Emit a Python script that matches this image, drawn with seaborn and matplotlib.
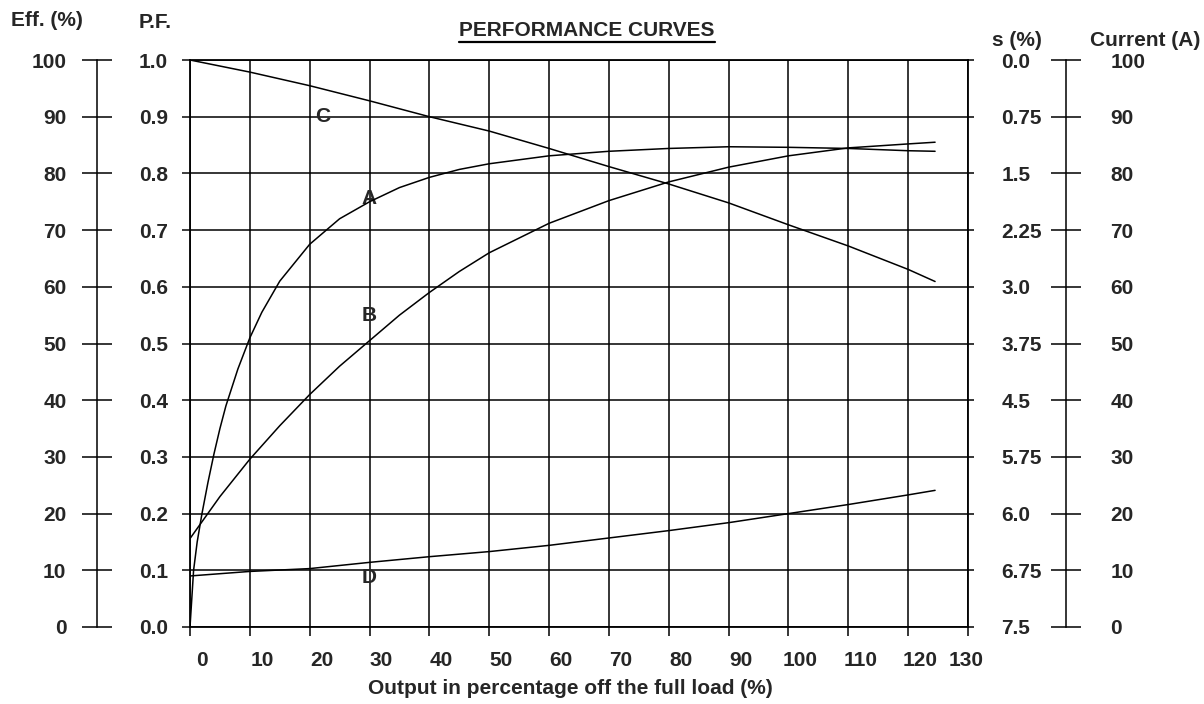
import numpy as np
import matplotlib
matplotlib.use("Agg")
import matplotlib.pyplot as plt
import matplotlib.transforms as mtransforms
from matplotlib.lines import Line2D
import seaborn as sns

# valores (carga en % de plena carga)
load = [0, 10, 20, 30, 40, 50, 60, 70, 80, 90, 100, 110, 120, 124.5]

# A: rendimiento (%) - mas puntos al principio porque sube muy rapido
eff_load = [0, 0.6, 1.2, 2, 3, 4, 5, 6, 8, 10, 12, 15, 20, 25, 30, 35, 40, 45,
            50, 60, 70, 80, 90, 100, 110, 120, 124.5]
eff_pct = [0, 10, 15, 20, 25.5, 30.5, 35, 39, 45.5, 51, 55.5, 61, 67.5, 72, 75,
           77.5, 79.3, 80.7, 81.7, 83.1, 83.9, 84.4, 84.7, 84.6, 84.4, 84.0, 83.9]

# B: factor de potencia
pf_load = [0, 5, 10, 15, 20, 25, 30, 35, 40, 45, 50, 60, 70, 80, 90, 100, 110,
           120, 124.5]
pf = [0.156, 0.23, 0.296, 0.355, 0.41, 0.46, 0.505, 0.55, 0.59, 0.627, 0.66,
      0.712, 0.752, 0.785, 0.811, 0.831, 0.845, 0.852, 0.855]

# C: deslizamiento s (%)
slip = [0.0, 0.16, 0.34, 0.54, 0.75, 0.94, 1.17, 1.41, 1.64, 1.89, 2.18,
        2.46, 2.77, 2.93]

# D: corriente (A)
current = [9.0, 9.8, 10.3, 11.4, 12.4, 13.3, 14.4, 15.7, 17.0, 18.4, 20.0,
           21.6, 23.3, 24.1]

x_ticks = list(range(0, 131, 10))
pf_ticks = [round(v * 0.1, 1) for v in range(11)]
eff_ticks = list(range(0, 101, 10))
cur_ticks = list(range(0, 101, 10))
s_ticks = [i * 0.75 for i in range(11)]
s_tick_labels = ["0.0", "0.75", "1.5", "2.25", "3.0", "3.75", "4.5", "5.75",
                 "6.0", "6.75", "7.5"]

curve_names = ["A", "B", "C", "D"]
name_pos = [(30, 0.755), (30, 0.55), (22.2, 0.9), (30, 0.088)]

sns.set_theme(style="white")
plt.rcParams["font.family"] = ["Liberation Sans", "DejaVu Sans"]
plt.rcParams["font.weight"] = "bold"
plt.rcParams["axes.edgecolor"] = "black"
FS = 15

W, H = 1204, 704
fig = plt.figure(figsize=(W / 100, H / 100), dpi=100)
fig.patch.set_facecolor("white")

left, right, top, bottom = 190, 968, 60, 627
ax = fig.add_axes([left / W, 1 - bottom / H, (right - left) / W, (bottom - top) / H])

lw = 1.1
ax.set_xlim(0, 130)
ax.set_ylim(0, 1)
ax.set_xticks(x_ticks)
ax.set_yticks(pf_ticks)
ax.set_yticklabels([f"{v:.1f}" for v in pf_ticks])
ax.grid(True, color="black", lw=lw)
for sp in ax.spines.values():
    sp.set_color("black")
    sp.set_linewidth(1.3)
ax.tick_params(axis="x", bottom=True, direction="out", length=6.5, width=lw,
               color="black", pad=11, labelsize=FS)
ax.tick_params(axis="y", left=False, pad=10, labelsize=FS)
for lab in ax.get_xticklabels():
    lab.set_fontweight("bold")
    dx = -2 if lab.get_text() == "130" else 12
    lab.set_transform(lab.get_transform() + mtransforms.ScaledTranslation(dx / 100, 0, fig.dpi_scale_trans))
for lab in ax.get_yticklabels():
    lab.set_fontweight("bold")

# eje s (%) en el borde derecho
ax_s = ax.twinx()
ax_s.set_ylim(7.5, 0)
ax_s.set_yticks(s_ticks)
ax_s.set_yticklabels(s_tick_labels)
ax_s.tick_params(axis="y", right=True, direction="out", length=4, width=lw,
                 color="black", pad=20, labelsize=FS)
for sp in ax_s.spines.values():
    sp.set_visible(False)

# eje corriente (A)
ax_c = ax.twinx()
ax_c.set_ylim(0, 100)
ax_c.set_yticks(cur_ticks)
ax_c.spines["right"].set_position(("outward", 70.5))
for k in ["left", "top", "bottom"]:
    ax_c.spines[k].set_visible(False)
ax_c.spines["right"].set_linewidth(lw)
ax_c.spines["right"].set_color("black")
ax_c.tick_params(axis="y", right=True, direction="inout", length=22, width=lw,
                 color="black", pad=21, labelsize=FS)

# eje rendimiento (%)
ax_e = ax.twinx()
ax_e.set_ylim(0, 100)
ax_e.set_yticks(eff_ticks)
ax_e.yaxis.set_ticks_position("left")
ax_e.yaxis.set_label_position("left")
ax_e.spines["left"].set_position(("outward", 67))
for k in ["right", "top", "bottom"]:
    ax_e.spines[k].set_visible(False)
ax_e.spines["left"].set_visible(True)
ax_e.spines["left"].set_linewidth(lw)
ax_e.spines["left"].set_color("black")
ax_e.tick_params(axis="y", left=True, right=False, direction="inout", length=22,
                 width=lw, color="black", pad=11, labelsize=FS)

for a in [ax_s, ax_c, ax_e]:
    for lab in a.get_yticklabels():
        lab.set_fontweight("bold")

# curvas
sns.lineplot(x=eff_load, y=eff_pct, ax=ax_e, color="black", lw=lw)
sns.lineplot(x=pf_load, y=pf, ax=ax, color="black", lw=lw)
sns.lineplot(x=load, y=slip, ax=ax_s, color="black", lw=lw)
sns.lineplot(x=load, y=current, ax=ax_c, color="black", lw=lw)
for a in [ax, ax_s, ax_c, ax_e]:
    a.set_xlabel("")
    a.set_ylabel("")
ax.set_xlim(0, 130)

for name, (px, py) in zip(curve_names, name_pos):
    ax.text(px, py, name, ha="center", va="center", fontsize=FS, fontweight="bold")

# textos
def ftext(x, y, s, **kw):
    return fig.text(x / W, 1 - y / H, s, ha="center", va="center", fontsize=FS,
                    fontweight="bold", **kw)

ftext(47, 21, "Eff. (%)")
ftext(155, 22, "P.F.")
ftext(1017, 40, "s (%)")
ftext(1145, 40, "Current (A)")
ftext(570, 688, "Output in percentage off the full load (%)")
title = ftext(587, 30, "PERFORMANCE CURVES")

fig.canvas.draw()
bb = title.get_window_extent()
y_line = bb.y0 - 2
fig.add_artist(Line2D([bb.x0 / W, bb.x1 / W], [y_line / H, y_line / H],
                      transform=fig.transFigure, color="black", lw=1.6))

fig.savefig("out.png", dpi=100, facecolor="white")
